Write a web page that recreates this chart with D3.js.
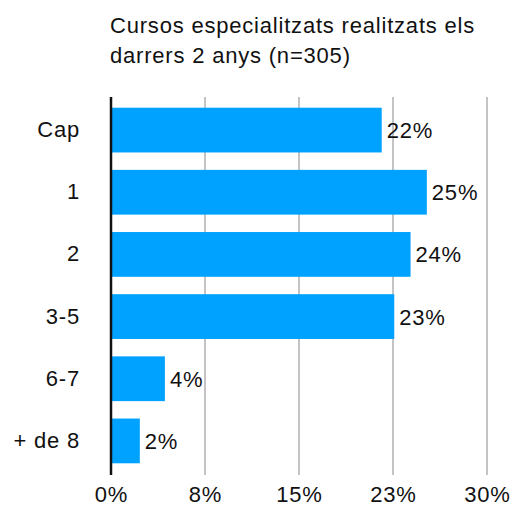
<!DOCTYPE html>
<html>
<head>
<meta charset="utf-8">
<script src="https://cdn.jsdelivr.net/npm/d3@7"></script>
<style>
  html, body { margin: 0; padding: 0; background: #fff; overflow: hidden; }
  svg { display: block; font-family: "Liberation Sans", Arial, sans-serif; }
</style>
</head>
<body>
<div id="chart"></div>
<script>
// Data
const categories = ["Cap", "1", "2", "3-5", "6-7", "+ de 8"];
const values = [21.6, 25.2, 23.9, 22.6, 4.3, 2.3];
const valueLabels = ["22%", "25%", "24%", "23%", "4%", "2%"];
const tickValues = [0, 7.5, 15, 22.5, 30];
const tickLabels = ["0%", "8%", "15%", "23%", "30%"];
const titleLines = ["Cursos especialitzats realitzats els", "darrers 2 anys (n=305)"];

const width = 515, height = 506;
const margin = { top: 99, right: 28, bottom: 34, left: 111 };
const fontSize = 22, spacing = "0.8px";

const svg = d3.select("#chart").append("svg")
  .attr("width", width)
  .attr("height", height);

// Scales
const x = d3.scaleLinear()
  .domain([0, 30])
  .range([margin.left, width - margin.right]);

const y = d3.scaleBand()
  .domain(categories)
  .range([margin.top, height - margin.bottom])
  .paddingInner(0.28)
  .paddingOuter(0.14);

// Title
svg.append("g")
  .selectAll("text")
  .data(titleLines)
  .join("text")
  .attr("x", 110)
  .attr("y", (d, i) => 33 + i * 30)
  .attr("font-size", fontSize)
  .attr("letter-spacing", spacing)
  .attr("fill", "#111")
  .text(d => d);

// Gridlines
svg.append("g")
  .selectAll("line")
  .data(tickValues.slice(1))
  .join("line")
  .attr("x1", d => x(d))
  .attr("x2", d => x(d))
  .attr("y1", 97)
  .attr("y2", 475)
  .attr("stroke", "#c4c4c4")
  .attr("stroke-width", 2);

// Bars
svg.append("g")
  .selectAll("rect")
  .data(values)
  .join("rect")
  .attr("x", x(0))
  .attr("y", (d, i) => y(categories[i]))
  .attr("width", d => x(d) - x(0))
  .attr("height", y.bandwidth())
  .attr("fill", "#00a2ff");

// Value labels
svg.append("g")
  .selectAll("text")
  .data(values)
  .join("text")
  .attr("x", d => x(d) + 5)
  .attr("y", (d, i) => y(categories[i]) + y.bandwidth() / 2)
  .attr("dy", "0.36em")
  .attr("font-size", fontSize)
  .attr("letter-spacing", spacing)
  .attr("fill", "#111")
  .text((d, i) => valueLabels[i]);

// Category axis
const yAxis = svg.append("g")
  .attr("transform", `translate(${margin.left},0)`)
  .call(d3.axisLeft(y).tickSize(0).tickPadding(31));
yAxis.select(".domain").remove();
yAxis.selectAll("text")
  .attr("font-size", fontSize)
  .attr("letter-spacing", spacing)
  .attr("fill", "#111")
  .attr("font-family", "Liberation Sans, Arial, sans-serif");

// Vertical baseline
svg.append("line")
  .attr("x1", x(0))
  .attr("x2", x(0))
  .attr("y1", 97)
  .attr("y2", 475)
  .attr("stroke", "#111")
  .attr("stroke-width", 2.5);

// Value axis
const xAxis = svg.append("g")
  .attr("transform", `translate(0,${height - 4})`)
  .call(d3.axisBottom(x).tickValues(tickValues).tickSize(0).tickPadding(0)
    .tickFormat((d, i) => tickLabels[i]));
xAxis.select(".domain").remove();
xAxis.selectAll("text")
  .attr("dy", 0)
  .attr("font-size", fontSize)
  .attr("letter-spacing", spacing)
  .attr("fill", "#111")
  .attr("font-family", "Liberation Sans, Arial, sans-serif");
</script>
</body>
</html>
